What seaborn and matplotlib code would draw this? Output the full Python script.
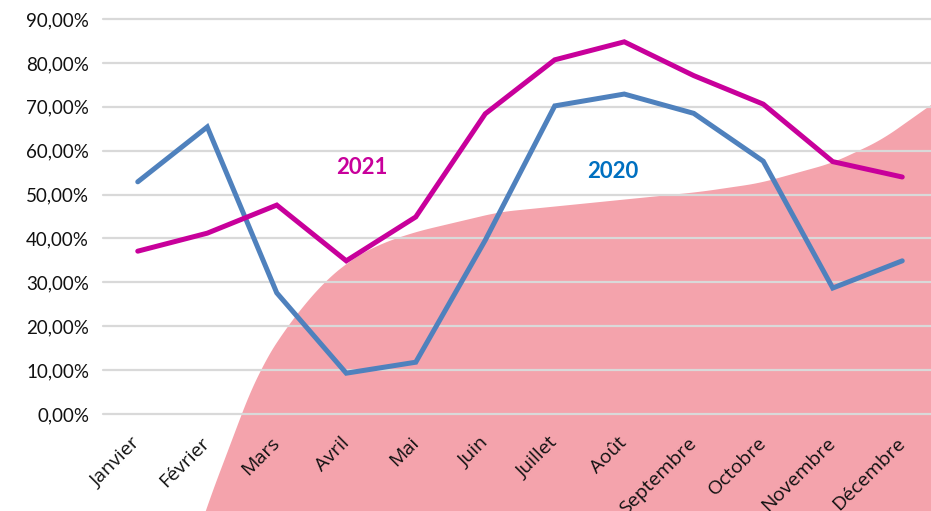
import numpy as np
import pandas as pd
import matplotlib
matplotlib.use("Agg")
import matplotlib.pyplot as plt
import matplotlib.transforms as mtransforms
import seaborn as sns

months = ["Janvier", "Février", "Mars", "Avril", "Mai", "Juin", "Juillet",
          "Août", "Septembre", "Octobre", "Novembre", "Décembre"]
values_2020 = [52.9, 65.4, 27.6, 9.3, 11.8, 39.6, 70.2, 72.9, 68.5, 57.6, 28.7, 34.9]
values_2021 = [37.1, 41.2, 47.6, 34.9, 44.9, 68.4, 80.7, 84.8, 77.1, 70.6, 57.5, 54.0]
y_ticks = [0, 10, 20, 30, 40, 50, 60, 70, 80, 90]
y_tick_labels = ["0,00%", "10,00%", "20,00%", "30,00%", "40,00%", "50,00%",
                 "60,00%", "70,00%", "80,00%", "90,00%"]

# decorative pink backdrop boundary (in category / percent units)
backdrop_x = [0.7, 0.96, 1.2, 1.49, 1.75, 2.14, 2.66, 3.1, 3.5, 4.0, 5.2, 6.65, 8.09,
              8.95, 10.0, 10.7, 11.45, 12.0]
backdrop_y = [-36.0, -22.1, -12.8, 0.0, 10.0, 19.8, 29.8, 35.5, 38.8, 41.5, 46.0, 48.3,
              50.6, 52.6, 57.2, 62.4, 70.8, 77.0]

df = pd.DataFrame({
    "mois": list(range(12)) * 2,
    "valeur": values_2020 + values_2021,
    "annee": ["2020"] * 12 + ["2021"] * 12,
})

sns.set_theme(style="white")
plt.rcParams["font.family"] = ["Lato", "DejaVu Sans"]

W, H = 931, 511
fig = plt.figure(figsize=(W / 100, H / 100), dpi=100)
x_left, x_right = 103, 937
y_top, y_bot = 19, 414
ax = fig.add_axes([x_left / W, 1 - y_bot / H, (x_right - x_left) / W, (y_bot - y_top) / H])
ax.patch.set_alpha(0)

# backdrop
bx = np.linspace(backdrop_x[0], backdrop_x[-1], 400)
by = np.interp(bx, backdrop_x, backdrop_y)
k = 8
by_s = np.convolve(np.pad(by, k, mode="reflect", reflect_type="odd"),
                   np.ones(2 * k + 1) / (2 * k + 1), mode="valid")
ax.fill_between(bx, by_s, -40, color="#F4A3AC", lw=0, clip_on=False, zorder=0.1)

for y in y_ticks:
    ax.axhline(y, color="#D9D9D9", lw=1.6, zorder=0.5, clip_on=False)

sns.lineplot(data=df, x="mois", y="valeur", hue="annee",
             palette={"2020": "#4F81BD", "2021": "#C8009B"},
             linewidth=3.6, legend=False, ax=ax, zorder=3)
for l in ax.lines[-2:]:
    l.set_clip_on(False)
    l.set_solid_capstyle("round")
    l.set_solid_joinstyle("miter")

ax.set_xlim(-0.5, 11.5)
ax.set_ylim(0, 90)
ax.set_xticks(range(12))
ax.set_xticklabels(months, rotation=45, ha="right", va="center",
                   rotation_mode="anchor", fontsize=14,
                   fontfamily=["Open Sans", "DejaVu Sans"])
offset = mtransforms.ScaledTranslation(3 / 100, 0, fig.dpi_scale_trans)
for lab in ax.get_xticklabels():
    lab.set_transform(lab.get_transform() + offset)
ax.set_yticks(y_ticks)
ax.set_yticklabels(y_tick_labels, fontsize=13.5)
ax.tick_params(axis="x", length=0, pad=19, colors="#111111")
ax.tick_params(axis="y", length=0, pad=10, colors="#111111")
ax.set_xlabel("")
ax.set_ylabel("")
sns.despine(ax=ax, left=True, bottom=True)

ax.text(3.22, 56.2, "2021", color="#C8009B", fontsize=16, fontweight="bold",
        ha="center", va="center")
ax.text(6.83, 55.3, "2020", color="#0070C0", fontsize=16, fontweight="bold",
        ha="center", va="center")

fig.savefig("out.png", dpi=100)
